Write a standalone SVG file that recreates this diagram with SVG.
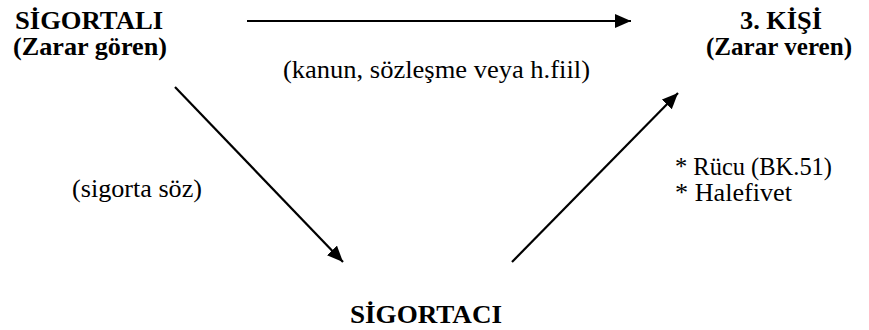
<svg xmlns="http://www.w3.org/2000/svg" width="869" height="330" viewBox="0 0 869 330">
<style>
.b{font-family:'Liberation Serif','Noto Serif','DejaVu Serif',serif;font-weight:700;font-size:25px;fill:#000}
.r{font-family:'Liberation Serif','DejaVu Serif',serif;font-weight:500;font-size:25px;fill:#000}
.c{stroke:#000;stroke-width:2.2;fill:none;marker-end:url(#ah)}
</style>
<defs>
<marker id="ah" markerUnits="userSpaceOnUse" markerWidth="17" markerHeight="15" refX="16" refY="7" orient="auto" viewBox="0 0 17 15">
<path d="M0,0 L16,7 L0,14 z" fill="#000"/>
</marker>
</defs>
<rect width="869" height="330" fill="#fff"/>
<g id="sigortali">
<text class="b" x="15" y="29" textLength="148" lengthAdjust="spacingAndGlyphs">SİGORTALI</text>
<text class="b" x="13" y="55" textLength="154" lengthAdjust="spacingAndGlyphs">(Zarar gören)</text>
</g>
<g id="kisi">
<text class="b" x="740" y="29" textLength="82" lengthAdjust="spacingAndGlyphs">3. KİŞİ</text>
<text class="b" x="706" y="55" textLength="146" lengthAdjust="spacingAndGlyphs">(Zarar veren)</text>
</g>
<g id="sigortaci">
<text class="b" x="350" y="323" textLength="152" lengthAdjust="spacingAndGlyphs">SİGORTACI</text>
</g>
<g id="connectors">
<line class="c" x1="247" y1="21" x2="631" y2="21"/>
<line class="c" x1="175" y1="87" x2="343" y2="262"/>
<line class="c" x1="512" y1="262" x2="678" y2="93"/>
<text class="r" x="283" y="78" textLength="307" lengthAdjust="spacingAndGlyphs">(kanun, sözleşme veya h.fiil)</text>
<text class="r" x="72" y="197" textLength="130" lengthAdjust="spacingAndGlyphs">(sigorta söz)</text>
<text class="r" x="675" y="175" textLength="157" lengthAdjust="spacingAndGlyphs">* Rücu (BK.51)</text>
<text class="r" x="675" y="201" textLength="117" lengthAdjust="spacingAndGlyphs">* Halefivet</text>
</g>
</svg>
